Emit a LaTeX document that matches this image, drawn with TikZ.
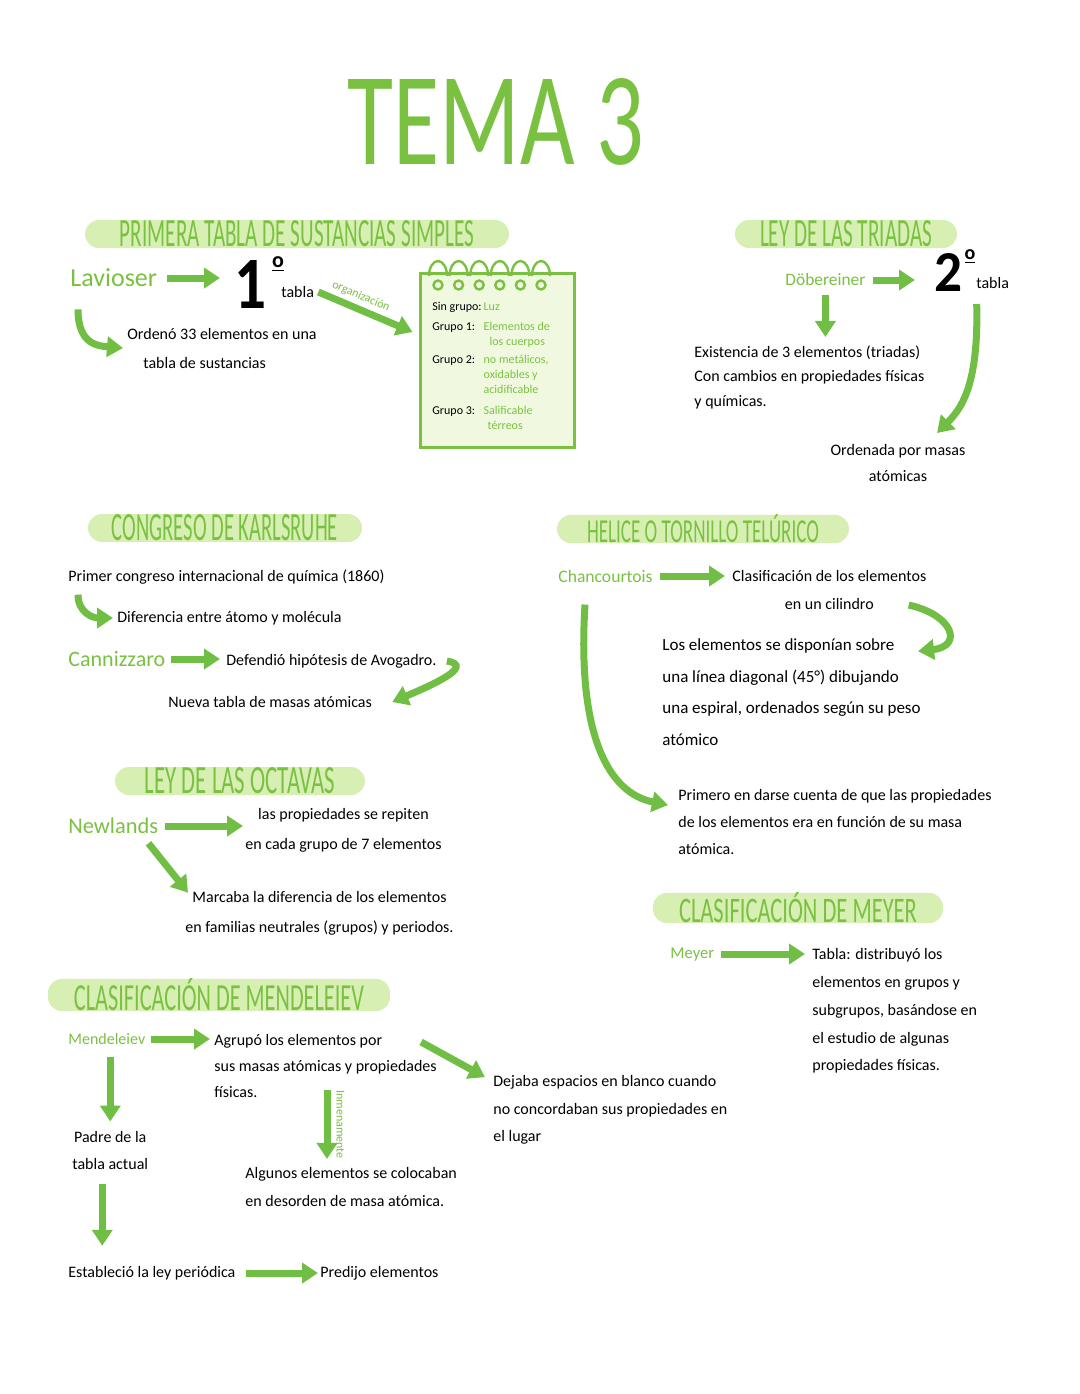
\documentclass[tikz,border=0pt]{standalone}
\usepackage{fontspec}
\setmainfont{Carlito}
\usetikzlibrary{arrows.meta}

\definecolor{hdgreen}{RGB}{122,193,66}
\definecolor{hlgreen}{RGB}{216,239,180}
\definecolor{arrgreen}{RGB}{112,190,68}
\definecolor{nbfill}{RGB}{240,249,224}
\newcommand{\headtxt}[3]{\resizebox{#1}{#2}{#3}}

\begin{document}
\begin{tikzpicture}[x=0.5pt,y=-0.5pt,
        hdrbar/.style={fill=hlgreen,rounded corners=7pt,minimum height=14pt,inner sep=0pt,text=hdgreen},
        person/.style={text=hdgreen,inner sep=0pt,font=\fontsize{#1}{#1}\selectfont},
        txt/.style={inner sep=0pt,align=left,font=\fontsize{8}{#1}\selectfont},
        txt/.default=13.5pt,
        ordmark/.style={inner sep=0pt,font=\fontsize{#1}{#1}\selectfont\bfseries},
        arr/.style={draw=arrgreen,line width=3.5pt,-{Triangle[length=8pt,width=10pt]}}]

    \fill[white] (0,0) rectangle (1080,1394);
    \useasboundingbox (0,0) rectangle (1080,1394);

    % Title
    \node[text=hdgreen,inner sep=0pt] (tema) at (496,122) {\headtxt{148pt}{43pt}{TEMA 3}};

    % Primera tabla
    \node[hdrbar,minimum width=212pt] (h1) at (297,234) {\headtxt{177pt}{13pt}{PRIMERA TABLA DE SUSTANCIAS SIMPLES}};
    \node[person=13,anchor=west] (lav) at (70,278) {Lavioser};
    \node[inner sep=0pt,anchor=west] (uno) at (234,284) {\headtxt{16pt}{24pt}{\bfseries 1}};
    \node[ordmark=11] (unoord) at (278,264) {\underline{o}};
    \node[txt,anchor=west] (tab1) at (281,292) {tabla};
    \node[txt=14.5pt,anchor=west] (ord) at (127,348) {Ordenó 33 elementos en una\\\hspace{8pt}tabla de sustancias};

    % Notebook
    \node[draw=hdgreen,line width=1.5pt,fill=nbfill,minimum width=77pt,minimum height=87pt,inner sep=0pt] (nb) at (497,360) {};
    \foreach \i in {0,...,5} {
        \draw[hdgreen,line width=1.2pt] ({429+20.6*\i},276) arc[start angle=180,end angle=360,x radius=9,y radius=15];
        \draw[hdgreen,line width=1.2pt] ({438+20.6*\i},285) circle (4.5);
    }
    \node[anchor=north west,inner sep=0pt,font=\fontsize{6}{7.5}\selectfont] (nbtxt) at (432,300) {%
        \begin{tabular}{@{}l@{\,}l@{}}
        Sin grupo: & \textcolor{hdgreen}{Luz}\\[2.5pt]
        Grupo 1: & \textcolor{hdgreen}{Elementos de}\\
         & \textcolor{hdgreen}{\hspace{3pt}los cuerpos}\\[1.5pt]
        Grupo 2: & \textcolor{hdgreen}{no metálicos,}\\
         & \textcolor{hdgreen}{oxidables y}\\
         & \textcolor{hdgreen}{acidificable}\\[3pt]
        Grupo 3: & \textcolor{hdgreen}{Salificable}\\
         & \textcolor{hdgreen}{\hspace{2pt}térreos}
        \end{tabular}};

    \draw[arr,shorten <=5pt,shorten >=7pt] (lav.east) -- (lav.east -| uno.west);
    \draw[arr] ([xshift=2pt]tab1.east) -- ([shift={(-6,-28)}]nb.west)
        node[pos=0.4,sloped,above,person=6,inner sep=2pt] {organización};
    \draw[arr] ([shift={(8,22)}]lav.south west) .. controls +(0,35) and +(-25,-2) .. ([xshift=-2pt]ord.west);

    % Triadas
    \node[hdrbar,minimum width=111pt] (h2) at (846,234) {\headtxt{86pt}{13pt}{LEY DE LAS TRIADAS}};
    \node[person=8.7,anchor=west] (dob) at (785,280) {Döbereiner};
    \node[inner sep=0pt,anchor=west] (dos) at (934,272) {\headtxt{14pt}{19pt}{\bfseries 2}};
    \node[ordmark=10] (dosord) at (970,257) {\underline{o}};
    \node[txt,anchor=west] (tab2) at (976,283) {tabla};
    \node[txt=12.25pt,anchor=west] (exi) at (694,377) {Existencia de 3 elementos (triadas)\\Con cambios en propiedades físicas\\y químicas.};
    \node[txt=13pt,align=center] (orm) at (898,463) {Ordenada por masas\\atómicas};

    \draw[arr,shorten <=3.5pt,shorten >=9.5pt] (dob.east) -- (dob.east -| dos.west);
    \draw[arr,shorten <=4pt,shorten >=4pt] (dob.south) -- (dob.south |- exi.north);
    \draw[arr] ([shift={(-16,15)}]tab2.south) .. controls +(2,80) and +(25,-25) .. ([shift={(39,-11)}]orm.north);

    % Karlsruhe
    \node[hdrbar,minimum width=137pt] (h3) at (225,528) {\headtxt{113pt}{13pt}{CONGRESO DE KARLSRUHE}};
    \node[txt,anchor=west] (pri) at (68,577) {Primer congreso internacional de química (1860)};
    \node[txt,anchor=west] (dif) at (117,618) {Diferencia entre átomo y molécula};
    \node[person=11,anchor=west] (can) at (68,659) {Cannizzaro};
    \node[txt,anchor=west] (def) at (226,661) {Defendió hipótesis de Avogadro.};
    \node[txt,anchor=west] (nue) at (168,702) {Nueva tabla de masas atómicas};

    \draw[arr] ([shift={(10,10)}]pri.south west) .. controls +(0,18) and +(-20,0) .. ([xshift=-2pt]dif.west);
    \draw[arr,shorten <=2.5pt,shorten >=3pt] (can.east) -- (can.east -| def.west);
    \draw[arr] ([xshift=5pt]def.east) .. controls +(30,5) and +(35,-15) .. ([xshift=10pt]nue.east);

    % Helice
    \node[hdrbar,minimum width=146pt] (h4) at (703,529) {\headtxt{116pt}{14pt}{HELICE O TORNILLO TELÚRICO}};
    \node[person=8.8,anchor=west] (cha) at (558,576) {Chancourtois};
    \node[txt=14pt,align=center,anchor=west] (cla) at (732,590) {Clasificación de los elementos\\en un cilindro};
    \node[inner sep=0pt,align=left,anchor=west,font=\fontsize{8.5}{15.8}\selectfont] (dis) at (662,692) {Los elementos se disponían sobre\\una línea diagonal (45°) dibujando\\una espiral, ordenados según su peso\\atómico};
    \node[txt=13.5pt,anchor=west] (pmr) at (678,822) {Primero en darse cuenta de que las propiedades\\de los elementos era en función de su masa\\atómica.};

    \draw[arr,shorten <=3.5pt,shorten >=3.5pt] (cha.east) -- (cha.east -| cla.west);
    \draw[arr] ([shift={(-18,-5)}]cla.south east) .. controls +(45,10) and +(45,-5) .. ([shift={(-3,13)}]dis.north east);
    \draw[arr] ([shift={(27,22)}]cha.south west) .. controls +(-8,130) and +(-60,-12) .. ([shift={(-10,-17)}]pmr.west);

    % Octavas
    \node[hdrbar,minimum width=125pt] (h5) at (240,781) {\headtxt{95pt}{13pt}{LEY DE LAS OCTAVAS}};
    \node[person=11.2,anchor=west] (new) at (68,826) {Newlands};
    \node[txt=15pt,align=center,anchor=west] (rep) at (245,830) {las propiedades se repiten\\en cada grupo de 7 elementos};
    \node[txt=15pt,align=center,anchor=west] (mar) at (185,913) {Marcaba la diferencia de los elementos\\en familias neutrales (grupos) y periodos.};

    \draw[arr,shorten <=3.5pt,shorten >=1pt] (new.east) -- (new.east -| rep.west);
    \draw[arr] ([shift={(-10,9)}]new.south east) -- ([shift={(3,2)}]mar.north west);

    % Meyer
    \node[hdrbar,minimum width=145pt] (h6) at (798,908) {\headtxt{119pt}{15pt}{CLASIFICACIÓN DE MEYER}};
    \node[person=8.3,anchor=west] (mey) at (670,954) {Meyer};
    \node[txt=13.9pt,anchor=west] (tbl) at (812,1011) {Tabla: distribuyó los\\elementos en grupos y\\subgrupos, basándose en\\el estudio de algunas\\propiedades físicas.};

    \draw[arr,shorten <=3pt,shorten >=3.5pt] (mey.east) -- (mey.east -| tbl.west);

    % Mendeleiev
    \node[hdrbar,minimum width=171pt] (h7) at (219,995) {\headtxt{145pt}{16pt}{CLASIFICACIÓN DE MENDELEIEV}};
    \node[person=8,anchor=west] (men) at (68,1039) {Mendeleiev};
    \node[txt=13pt,anchor=west] (agr) at (214,1066) {Agrupó los elementos por\\sus masas atómicas y propiedades\\físicas.};
    \node[txt=13.75pt,anchor=west] (dej) at (493,1110) {Dejaba espacios en blanco cuando\\no concordaban sus propiedades en\\el lugar};
    \node[txt=13.5pt,align=center,anchor=west] (pad) at (72,1150) {Padre de la\\tabla actual};
    \node[txt=14pt,anchor=west] (alg) at (245,1187) {Algunos elementos se colocaban\\en desorden de masa atómica.};
    \node[txt,anchor=west] (est) at (68,1273) {Estableció la ley periódica};
    \node[txt,anchor=west] (pre) at (320,1273) {Predijo elementos};

    \draw[arr,shorten <=2.5pt,shorten >=2pt] (men.east) -- (men.east -| agr.west);
    \draw[arr] ([shift={(-16,8)}]agr.north east) -- ([shift={(-8,2)}]dej.north west);
    \draw[arr,shorten <=6pt,shorten >=4.5pt] (pad.north |- men.south) -- (pad.north);
    \draw[arr] ([shift={(113,-8)}]agr.south west) -- ([shift={(82,-8)}]alg.north west)
        node[midway,anchor=south,rotate=-90,person=6,inner sep=3pt] {Inmenamente};
    \draw[arr,shorten <=7pt,shorten >=10pt] ([xshift=-4pt]pad.south) -- ([xshift=-4pt]pad.south |- est.north);
    \draw[arr,shorten <=5pt,shorten >=1pt] (est.east) -- (est.east -| pre.west);
\end{tikzpicture}
\end{document}
